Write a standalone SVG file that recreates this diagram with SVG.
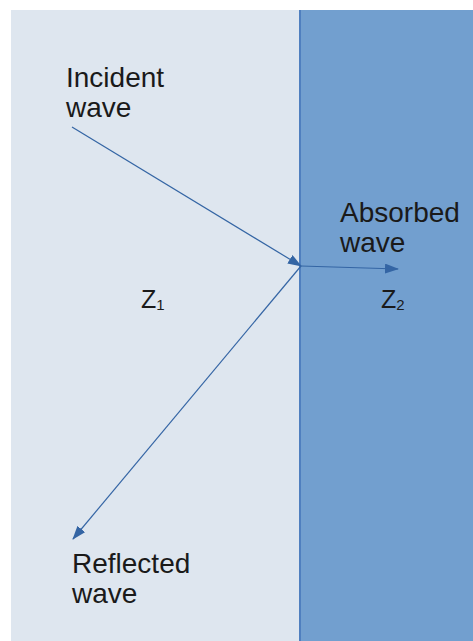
<svg xmlns="http://www.w3.org/2000/svg" width="473" height="641" viewBox="0 0 473 641">
  <style>
    .lbl { font-family: "Liberation Sans", Arial, sans-serif; font-size: 28px; fill: #1a1a1a; }
    .z { font-family: "Liberation Sans", Arial, sans-serif; font-size: 25px; fill: #1a1a1a; }
    .sub { font-size: 15px; }
    .wave { stroke: #3465a4; stroke-width: 1.2; fill: none; marker-end: url(#ah); }
  </style>
  <defs>
    <marker id="ah" viewBox="0 0 14 10" refX="13" refY="5" markerWidth="14" markerHeight="10" markerUnits="userSpaceOnUse" orient="auto">
      <path d="M0,0 L14,5 L0,10 Z" fill="#3465a4"/>
    </marker>
  </defs>
  <rect width="473" height="641" fill="#ffffff"/>
  <g id="medium1">
    <rect x="11" y="10" width="289" height="631" fill="#dee6ef"/>
  </g>
  <g id="medium2">
    <rect x="300" y="10" width="173" height="631" fill="#729fcf"/>
    <line x1="300" y1="10" x2="300" y2="641" stroke="#4f7fbf" stroke-width="2"/>
  </g>
  <g id="connectors">
    <line class="wave" x1="72" y1="127" x2="301" y2="266"/>
    <line class="wave" x1="301" y1="266" x2="398" y2="269"/>
    <line class="wave" x1="301" y1="266" x2="73" y2="539"/>
  </g>
  <g id="incident">
    <text class="lbl" x="66" y="87">Incident</text>
    <text class="lbl" x="66" y="117">wave</text>
  </g>
  <g id="absorbed">
    <text class="lbl" x="340" y="222">Absorbed</text>
    <text class="lbl" x="340" y="252">wave</text>
  </g>
  <g id="reflected">
    <text class="lbl" x="72" y="573">Reflected</text>
    <text class="lbl" x="72" y="603">wave</text>
  </g>
  <g id="z1">
    <text class="z" x="141" y="308">Z<tspan class="sub" dy="2">1</tspan></text>
  </g>
  <g id="z2">
    <text class="z" x="381" y="308">Z<tspan class="sub" dy="2">2</tspan></text>
  </g>
</svg>
